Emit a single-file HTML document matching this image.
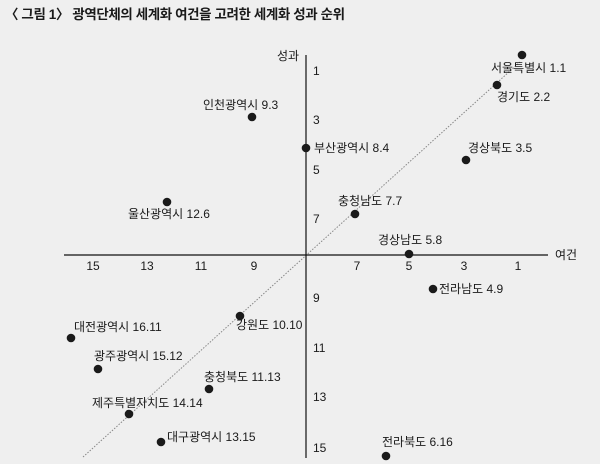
<!DOCTYPE html>
<html><head><meta charset="utf-8"><style>
html,body{margin:0;padding:0;background:#efefef;}
svg{display:block}
text{font-family:"Liberation Sans","Noto Sans CJK KR",sans-serif;fill:#1a1a1a;font-size:12px;}
</style></head><body>
<svg width="600" height="464" viewBox="0 0 600 464">
<rect width="600" height="464" fill="#efefef"/>
<text x="5" y="19" style="font-size:13.5px;font-weight:bold" textLength="340">〈 그림 1〉 광역단체의 세계화 여건을 고려한 세계화 성과 순위</text>
<line x1="83" y1="457" x2="520" y2="62" stroke="#888" stroke-width="1" stroke-dasharray="1.5,1.5"/>
<line x1="64" y1="255" x2="548" y2="255" stroke="#111" stroke-width="1.2"/>
<line x1="306" y1="55" x2="306" y2="458" stroke="#111" stroke-width="1.2"/>
<text x="277" y="60">성과</text>
<text x="555" y="259">여건</text>
<g text-anchor="middle">
<text x="93" y="270">15</text><text x="147" y="270">13</text><text x="201" y="270">11</text><text x="254" y="270">9</text>
<text x="357" y="270">7</text><text x="409" y="270">5</text><text x="464" y="270">3</text><text x="518" y="270">1</text>
</g>
<g>
<text x="313" y="75">1</text><text x="313" y="124">3</text><text x="313" y="174">5</text><text x="313" y="223">7</text>
<text x="313" y="302">9</text><text x="313" y="352">11</text><text x="313" y="401">13</text><text x="313" y="452">15</text>
</g>
<g fill="#1a1a1a">
<circle cx="522" cy="55" r="4.3"/><circle cx="497" cy="85" r="4.3"/><circle cx="252" cy="117" r="4.3"/>
<circle cx="306" cy="148" r="4.3"/><circle cx="466" cy="160" r="4.3"/><circle cx="167" cy="202" r="4.3"/>
<circle cx="355" cy="214" r="4.3"/><circle cx="409" cy="254" r="4.3"/><circle cx="433" cy="289" r="4.3"/>
<circle cx="240" cy="316" r="4.3"/><circle cx="71" cy="338" r="4.3"/><circle cx="98" cy="369" r="4.3"/>
<circle cx="209" cy="389" r="4.3"/><circle cx="129" cy="414" r="4.3"/><circle cx="161" cy="442" r="4.3"/>
<circle cx="386" cy="456" r="4.3"/>
</g>
<text x="491" y="72">서울특별시 1.1</text>
<text x="497" y="101">경기도 2.2</text>
<text x="203" y="109">인천광역시 9.3</text>
<text x="314" y="152">부산광역시 8.4</text>
<text x="468" y="152">경상북도 3.5</text>
<text x="128" y="218">울산광역시 12.6</text>
<text x="338" y="205">충청남도 7.7</text>
<text x="378" y="244">경상남도 5.8</text>
<text x="439" y="293">전라남도 4.9</text>
<text x="236" y="329">강원도 10.10</text>
<text x="74" y="331">대전광역시 16.11</text>
<text x="94" y="360">광주광역시 15.12</text>
<text x="204" y="381">충청북도 11.13</text>
<text x="92" y="407">제주특별자치도 14.14</text>
<text x="167" y="441">대구광역시 13.15</text>
<text x="382" y="446">전라북도 6.16</text>
</svg>
</body></html>
